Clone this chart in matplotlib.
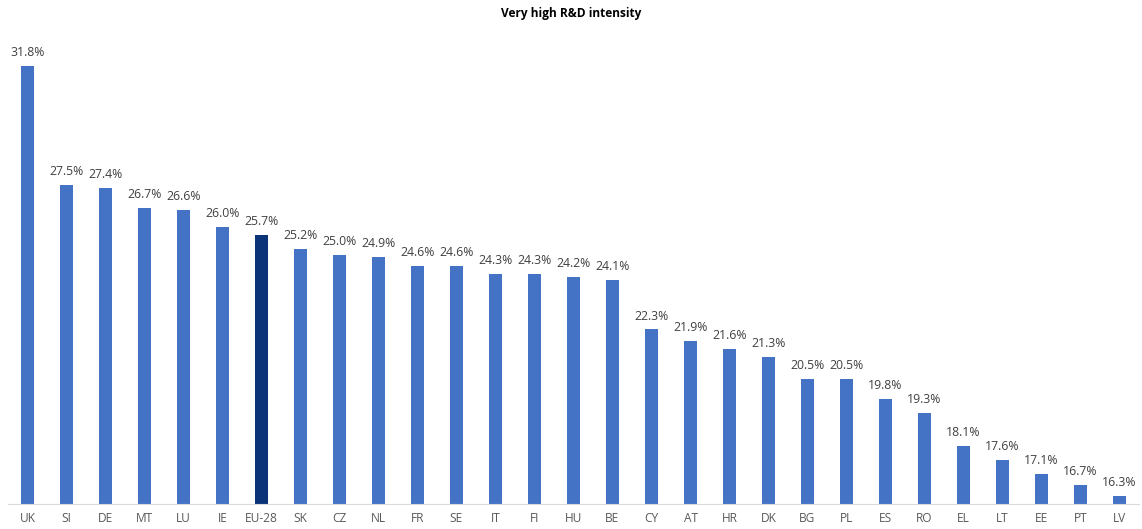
import numpy as np
import matplotlib.pyplot as plt

countries = ['UK', 'SI', 'DE', 'MT', 'LU', 'IE', 'EU-28', 'SK', 'CZ', 'NL',
             'FR', 'SE', 'IT', 'FI', 'HU', 'BE', 'CY', 'AT', 'HR', 'DK',
             'BG', 'PL', 'ES', 'RO', 'EL', 'LT', 'EE', 'PT', 'LV']
values = [31.8, 27.5, 27.4, 26.7, 26.6, 26.0, 25.7, 25.2, 25.0, 24.9,
          24.6, 24.6, 24.3, 24.3, 24.2, 24.1, 22.3, 21.9, 21.6, 21.3,
          20.5, 20.5, 19.8, 19.3, 18.1, 17.6, 17.1, 16.7, 16.3]

plt.rcParams['font.family'] = ['Open Sans', 'DejaVu Sans']

fig = plt.figure(figsize=(11.42, 5.29), dpi=100)
ax = fig.add_axes([8 / 1142, 1 - 504 / 529, 1131 / 1142, 471 / 529])

x = np.arange(len(countries))
colors = ['#0B3478' if c == 'EU-28' else '#4472C4' for c in countries]
ax.bar(x, values, width=0.35, color=colors, edgecolor='none')

for xi, v in zip(x, values):
    ax.text(xi, v + 0.25, f'{v:.1f}%', ha='center', va='bottom',
            fontsize=8.8, color='#404040')

ax.set_xlim(-0.5, len(countries) - 0.5)
ax.set_ylim(16, 33)
ax.set_xticks(x)
ax.set_xticklabels(countries, fontsize=8.6, color='#595959')
ax.tick_params(axis='x', length=0, pad=6)
ax.set_yticks([])
for s in ['top', 'right', 'left']:
    ax.spines[s].set_visible(False)
ax.spines['bottom'].set_color('#D9D9D9')

fig.text(0.5, 1 - 14 / 529, 'Very high R&D intensity', ha='center', va='center',
         fontsize=8.6, fontweight='bold', color='black')

fig.savefig('out.png', dpi=100)
